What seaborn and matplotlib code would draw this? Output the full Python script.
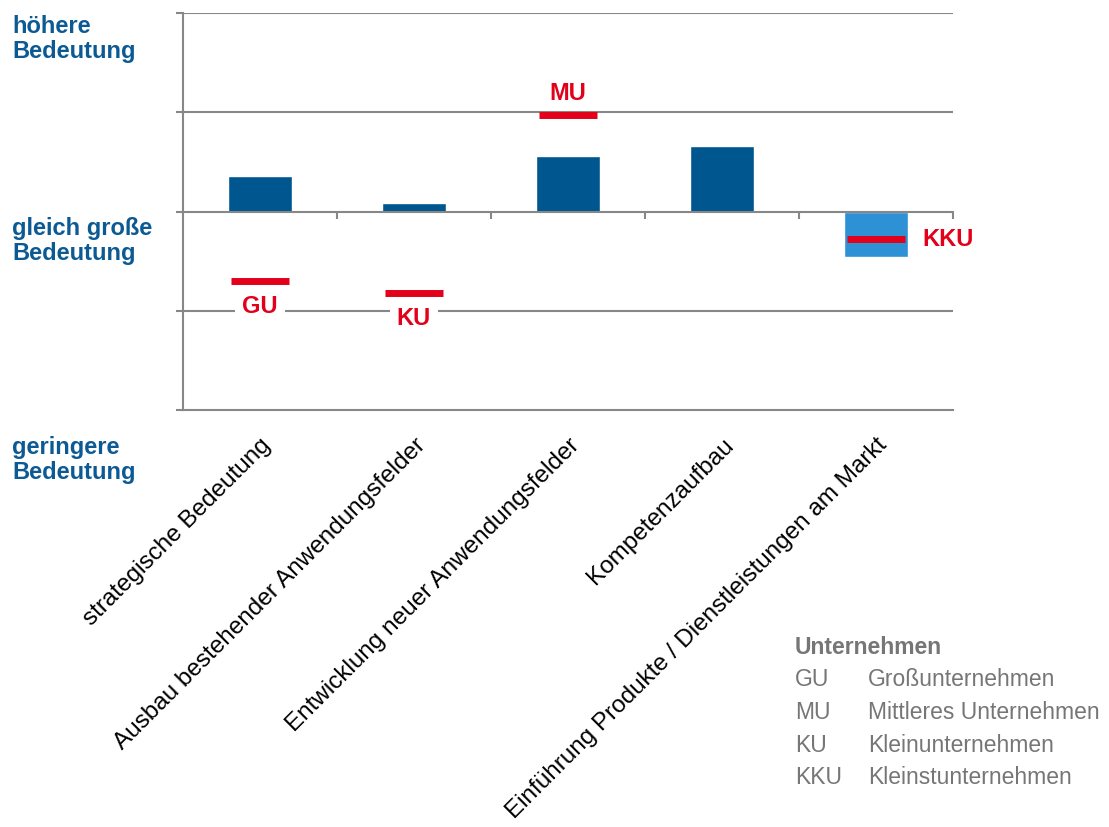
import matplotlib
matplotlib.use("Agg")
import matplotlib.pyplot as plt
import matplotlib.transforms as mtransforms
import seaborn as sns

# Daten
kategorien = [
    "strategische Bedeutung",
    "Ausbau bestehender Anwendungsfelder",
    "Entwicklung neuer Anwendungsfelder",
    "Kompetenzaufbau",
    "Einführung Produkte / Dienstleistungen am Markt",
]
mittelwerte = [0.36, 0.09, 0.56, 0.66, -0.46]
balken_farben = ["#00568f", "#00568f", "#00568f", "#00568f", "#2e91d6"]

# rote Markierungen (Unternehmensgröße je Kategorie)
marker_idx = [0, 2, 1, 4]
marker_werte = [-0.70, 0.97, -0.82, -0.28]
marker_label = ["GU", "MU", "KU", "KKU"]

legende_kurz = ["GU", "MU", "KU", "KKU"]
legende_lang = ["Großunternehmen", "Mittleres Unternehmen",
                "Kleinunternehmen", "Kleinstunternehmen"]

BLAU = "#0c5a94"
ROT = "#e2001a"
GRAU = "#878787"
LEG_GRAU = "#767676"

sns.set_style("white")
plt.rcParams["font.family"] = ["Liberation Sans", "DejaVu Sans"]

fig = plt.figure(figsize=(11.09, 8.27), dpi=100)
ax = fig.add_axes([183 / 1109, 1 - 410 / 827, 770 / 1109, 397 / 827])

sns.barplot(x=kategorien, y=mittelwerte, hue=kategorien, palette=balken_farben,
            legend=False, width=0.41, saturation=1, ax=ax)

ax.set_xlim(-0.5, 4.5)
ax.set_ylim(-2, 2)

# Gitterlinien
for y in [2, 1, -1]:
    ax.axhline(y, color=GRAU, lw=1.5, zorder=0)
ax.axhline(0, color=GRAU, lw=1.5, zorder=3)
trans = mtransforms.blended_transform_factory(ax.transData, ax.transAxes)
ax.vlines([i + 0.5 for i in range(len(kategorien))], 0.5 - 0.018, 0.5,
          transform=trans, color=GRAU, lw=1.5, clip_on=False)

# Markierungen
for i, w, lab in zip(marker_idx, marker_werte, marker_label):
    ax.hlines(w, i - 0.19, i + 0.19, color=ROT, lw=5, zorder=4)
    if lab == "MU":
        ax.text(i, w + 0.1, lab, color=ROT, fontsize=17, fontweight="bold",
                ha="center", va="bottom", zorder=5)
    elif lab == "KKU":
        ax.text(i + 0.3, w, lab, color=ROT, fontsize=17, fontweight="bold",
                ha="left", va="center", zorder=5, clip_on=False)
    else:
        ax.text(i, w - 0.14, lab, color=ROT, fontsize=17, fontweight="bold",
                ha="center", va="top", zorder=5,
                bbox=dict(facecolor="white", edgecolor="none", pad=5))

# Achsen
for s in ["top", "right"]:
    ax.spines[s].set_visible(False)
for s in ["left", "bottom"]:
    ax.spines[s].set_color(GRAU)
    ax.spines[s].set_linewidth(1.5)
ax.set_yticks([-2, -1, 0, 1, 2])
ax.set_yticklabels([])
ax.tick_params(axis="y", left=True, length=5, width=1.5, color=GRAU, direction="out")
ax.tick_params(axis="x", bottom=False, pad=14)
ax.set_xticks(range(len(kategorien)))
ax.set_xticklabels(kategorien, rotation=45, ha="right", rotation_mode="anchor",
                   fontsize=17.5, color="black")
ax.set_xlabel("")
ax.set_ylabel("")

# Beschriftung links
for txt, ypx in [("höhere\nBedeutung", 15), ("gleich große\nBedeutung", 217),
                 ("geringere\nBedeutung", 436)]:
    fig.text(12 / 1109, 1 - ypx / 827, txt, color=BLAU, fontsize=17,
             fontweight="bold", ha="left", va="top", linespacing=1.1)

# Legende
fig.text(795 / 1109, 1 - 648 / 827, "Unternehmen", color=LEG_GRAU, fontsize=16.5,
         fontweight="bold", ha="left", va="center")
for k, (kurz, lang) in enumerate(zip(legende_kurz, legende_lang)):
    ypx = 680 + k * 32.5
    fig.text(795 / 1109, 1 - ypx / 827, kurz, color=LEG_GRAU, fontsize=16.5,
             ha="left", va="center")
    fig.text(868 / 1109, 1 - ypx / 827, lang, color=LEG_GRAU, fontsize=16.5,
             ha="left", va="center")

fig.savefig("out.png", dpi=100)
